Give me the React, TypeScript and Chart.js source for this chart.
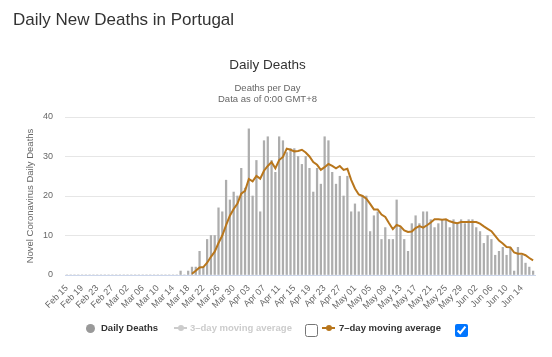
import React, { useEffect, useRef } from 'react';
import { Chart, registerables } from 'chart.js';

Chart.register(...registerables);

// ---- categories (Feb 15 .. Jun 17, 2020) ----
const MONTH_SPANS: [string, number, number][] = [
  ['Feb', 15, 29],
  ['Mar', 1, 31],
  ['Apr', 1, 30],
  ['May', 1, 31],
  ['Jun', 1, 17],
];
const dates: string[] = [];
for (const [m, a, b] of MONTH_SPANS) {
  for (let d = a; d <= b; d++) dates.push(`${m} ${String(d).padStart(2, '0')}`);
}

// ---- daily deaths ----
const dailyDeaths: number[] = [
  0, 0, 0, 0, 0, 0, 0, 0, 0, 0,
  0, 0, 0, 0, 0, 0, 0, 0, 0, 0,
  0, 0, 0, 0, 0, 0, 0, 0, 0, 0,
  1, 0, 1, 2, 2, 6, 2, 9, 10, 10,
  17, 16, 24, 19, 21, 20, 27, 22, 37, 20,
  29, 16, 34, 35, 29, 26, 35, 34, 31, 32,
  32, 30, 28, 30, 27, 21, 27, 23, 35, 34,
  26, 23, 25, 20, 25, 16, 18, 16, 20, 20,
  11, 15, 16, 9, 12, 9, 9, 19, 12, 9,
  6, 13, 15, 13, 16, 16, 14, 12, 13, 14,
  14, 12, 14, 13, 14, 13, 14, 14, 12, 11,
  8, 10, 9, 5, 6, 7, 5, 7, 1, 7,
  5, 3, 2, 1,
];

// ---- 7-day moving average ----
const movingAvg7: (number | null)[] = [
  null, null, null, null, null, null, null, null, null, null,
  null, null, null, null, null, null, null, null, null, null,
  null, null, null, null, null, null, null, null, null, null,
  null, null, null, 0.3, 1.1, 1.9, 2.0, 3.1, 4.6, 5.9,
  8.1, 10.0, 12.6, 15.0, 16.7, 18.1, 20.6, 21.3, 24.3, 23.7,
  25.1, 24.4, 26.4, 27.6, 28.6, 27.0, 29.1, 29.9, 32.0, 31.7,
  31.3, 31.4, 31.7, 31.0, 30.0, 28.6, 27.9, 26.6, 27.3, 28.1,
  27.6, 27.0, 27.6, 26.6, 26.9, 24.1, 21.9, 20.4, 20.0, 19.3,
  18.0, 16.6, 16.6, 15.3, 14.7, 13.1, 11.6, 12.7, 12.3, 11.3,
  10.9, 11.0, 11.9, 12.4, 12.0, 12.6, 13.3, 14.1, 14.1, 14.0,
  14.1, 13.6, 13.3, 13.1, 13.4, 13.4, 13.4, 13.4, 13.4, 13.0,
  12.3, 11.7, 11.1, 9.9, 8.7, 8.0, 7.1, 7.0, 5.7, 5.4,
  5.4, 5.0, 4.3, 3.7,
];

const yTicks = [0, 10, 20, 30, 40];

const FONT = "'Liberation Sans', Arial, Helvetica, sans-serif";
const BAR_GRAY = '#adadad';
const ORANGE = '#b8761c';

export default function App() {
  const ref = useRef<HTMLCanvasElement>(null);

  useEffect(() => {
    document.body.style.margin = '0';
    const chart = new Chart(ref.current as HTMLCanvasElement, {
      type: 'bar',
      data: {
        labels: dates,
        datasets: [
          {
            type: 'line',
            label: '7-day moving average',
            data: movingAvg7,
            borderColor: ORANGE,
            backgroundColor: ORANGE,
            borderWidth: 2,
            pointRadius: 0,
            fill: false,
            tension: 0,
            order: 0,
          } as any,
          {
            type: 'bar',
            label: 'Daily Deaths',
            data: dailyDeaths,
            backgroundColor: BAR_GRAY,
            barThickness: 1.6,
            order: 1,
          } as any,
        ],
      },
      options: {
        responsive: false,
        animation: false,
        devicePixelRatio: 1,
        layout: { padding: { left: 0, right: 17, top: 0, bottom: 0 } },
        plugins: {
          legend: { display: false },
          tooltip: { enabled: false },
          title: {
            display: true,
            text: 'Daily Deaths',
            color: '#333333',
            font: { family: FONT, size: 13.5, weight: 'normal' as any },
            padding: { top: 57, bottom: 9 },
          },
          subtitle: {
            display: true,
            text: ['Deaths per Day', 'Data as of 0:00 GMT+8'],
            color: '#666666',
            font: { family: FONT, size: 9.5, lineHeight: 1.2 },
            padding: { top: 0, bottom: 12 },
          },
        },
        scales: {
          x: {
            offset: true,
            grid: { display: false },
            border: { display: true, color: '#ccd6eb', width: 1 },
            ticks: {
              autoSkip: false,
              maxRotation: 45,
              minRotation: 45,
              color: '#666666',
              font: { family: FONT, size: 9 },
              padding: 0,
              callback: (_v: any, i: number) => (i % 4 === 0 ? dates[i] : null),
            },
            afterFit: (s: any) => {
              s.height = 82;
            },
          },
          y: {
            min: 0,
            max: yTicks[yTicks.length - 1],
            ticks: {
              stepSize: 10,
              color: '#666666',
              font: { family: FONT, size: 9 },
              padding: 12,
            },
            grid: {
              drawTicks: false,
              color: (ctx: any) => (ctx.tick && ctx.tick.value === 0 ? '#ccd6eb' : '#e6e6e6'),
            },
            border: { display: false },
            title: {
              display: true,
              text: 'Novel Coronavirus Daily Deaths',
              color: '#666666',
              font: { family: FONT, size: 9.5 },
              padding: { top: 25, bottom: 0 },
            },
            afterFit: (s: any) => {
              s.width = 65;
            },
          },
        },
      },
    });
    return () => chart.destroy();
  }, []);

  const legendText: React.CSSProperties = {
    position: 'absolute',
    top: 322,
    fontFamily: FONT,
    fontSize: 9.5,
    fontWeight: 'bold',
    lineHeight: '12px',
    whiteSpace: 'nowrap',
  };

  return (
    <div style={{ position: 'relative', width: 552, height: 357, overflow: 'hidden', background: '#fff' }}>
      <canvas ref={ref} width={552} height={357} style={{ display: 'block', width: 552, height: 357 }} />
      <div
        style={{
          position: 'absolute',
          left: 13,
          top: 10,
          fontFamily: FONT,
          fontSize: 17,
          lineHeight: '20px',
          color: '#333333',
          whiteSpace: 'nowrap',
        }}
      >
        Daily New Deaths in Portugal
      </div>

      {/* legend */}
      <div style={{ position: 'absolute', left: 86, top: 323.5, width: 9, height: 9, borderRadius: '50%', background: '#999999' }} />
      <div style={{ ...legendText, left: 101, color: '#333333' }}>Daily Deaths</div>

      <div style={{ position: 'absolute', left: 174, top: 327, width: 13, height: 2, background: '#cccccc' }} />
      <div style={{ position: 'absolute', left: 177.5, top: 325, width: 6, height: 6, borderRadius: '50%', background: '#cccccc' }} />
      <div style={{ ...legendText, left: 190, color: '#cccccc' }}>3–day moving average</div>
      <input
        type="checkbox"
        readOnly
        checked={false}
        style={{ position: 'absolute', left: 305, top: 324, width: 13, height: 13, margin: 0 }}
      />

      <div style={{ position: 'absolute', left: 322, top: 327, width: 13, height: 2, background: ORANGE }} />
      <div style={{ position: 'absolute', left: 325.5, top: 325, width: 6, height: 6, borderRadius: '50%', background: ORANGE }} />
      <div style={{ ...legendText, left: 339, color: '#333333' }}>7–day moving average</div>
      <input
        type="checkbox"
        readOnly
        checked={true}
        style={{ position: 'absolute', left: 455, top: 324, width: 13, height: 13, margin: 0 }}
      />
    </div>
  );
}
